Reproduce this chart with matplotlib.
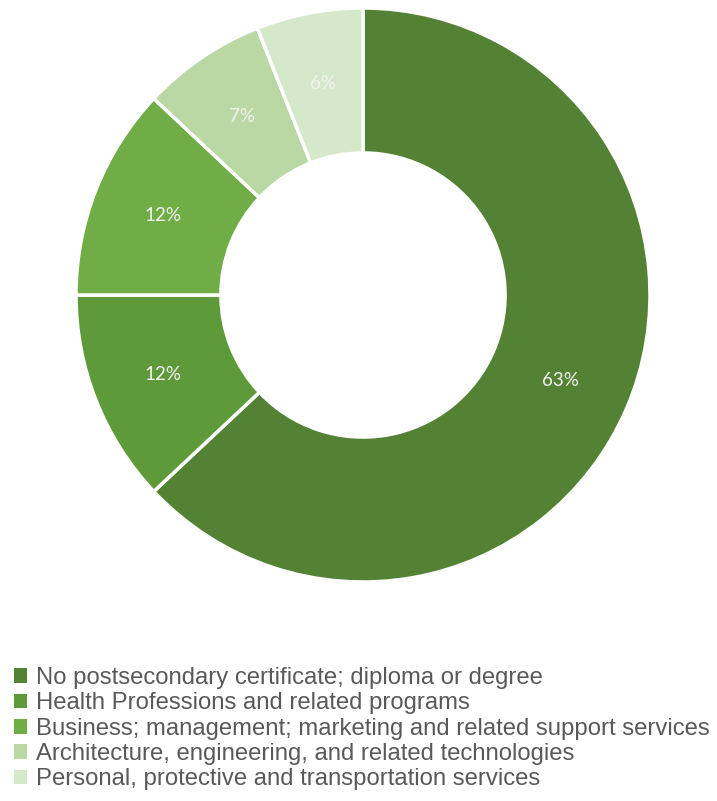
import matplotlib
matplotlib.use("Agg")
import matplotlib.pyplot as plt

categories = [
    "No postsecondary certificate; diploma or degree",
    "Health Professions and related programs",
    "Business; management; marketing and related support services",
    "Architecture, engineering, and related technologies",
    "Personal, protective and transportation services",
]
shares = [63, 12, 12, 7, 6]
colors = ["#548235", "#5E9A3A", "#70AD47", "#B9D8A4", "#D5E8C9"]

W, H = 717, 801
fig = plt.figure(figsize=(W / 100, H / 100), dpi=100)

# donut: centre (363, 295) px, outer radius 287 px
cx, cy, r = 363, 295, 287
ax = fig.add_axes([(cx - r) / W, 1 - (cy + r) / H, 2 * r / W, 2 * r / H])
wedges, texts, autotexts = ax.pie(
    shares,
    colors=colors,
    startangle=90,
    counterclock=False,
    radius=1.0,
    autopct=lambda p: f"{p:.0f}%",
    pctdistance=0.75,
    wedgeprops=dict(width=0.505, edgecolor="white", linewidth=2.5),
    textprops=dict(color="#F2F2F2", fontsize=13.5, family=["Lato", "DejaVu Sans"]),
)
ax.set_xlim(-1, 1)
ax.set_ylim(-1, 1)
ax.set_aspect("equal")
ax.axis("off")

leg = fig.legend(
    wedges,
    categories,
    loc="upper left",
    bbox_to_anchor=(14 / W, 1 - 667 / H),
    frameon=False,
    prop=dict(family=["Liberation Sans", "DejaVu Sans"], size=17.2),
    handlelength=0.56,
    handleheight=0.56,
    handletextpad=0.37,
    labelspacing=0.14,
    borderaxespad=0,
    borderpad=0,
)
for t in leg.get_texts():
    t.set_color("#595959")
for h in leg.legend_handles:
    h.set_edgecolor("none")

fig.savefig("out.png", dpi=100)
